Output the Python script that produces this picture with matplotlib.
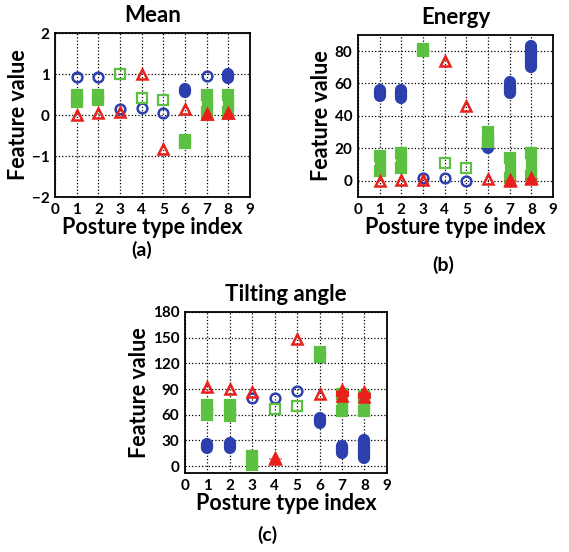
import numpy as np
import matplotlib
matplotlib.use("Agg")
import matplotlib.pyplot as plt

plt.rcParams['font.family'] = ['Lato', 'DejaVu Sans']
plt.rcParams['font.weight'] = 'bold'

postures = [1, 2, 3, 4, 5, 6, 7, 8]

# each entry is (low, high) of the overlapping samples at that posture
mean_circle = [(0.93, 0.93), (0.92, 0.92), (0.15, 0.15), (0.17, 0.17), (0.05, 0.05), (0.56, 0.64), (0.95, 0.95), (0.9, 1.0)]
mean_square = [(0.32, 0.48), (0.36, 0.5), (1.0, 1.0), (0.42, 0.42), (0.37, 0.37), (-0.68, -0.6), (0.08, 0.5), (0.08, 0.5)]
mean_triangle = [(0.0, 0.0), (0.05, 0.05), (0.08, 0.08), (1.0, 1.0), (-0.83, -0.83), (0.15, 0.15), (0.02, 0.03), (0.05, 0.06)]

energy_circle = [(52, 56), (51, 56), (2, 2), (2, 2), (0, 0), (20, 26), (54, 61), (70, 83)]
energy_square = [(6, 15), (8, 17), (80, 81), (11, 11), (8, 8), (24, 30), (2, 14), (3, 17)]
energy_triangle = [(0, 0), (0.5, 0.5), (0.5, 0.5), (74, 74), (46, 46), (1, 1), (0, 0.5), (1, 1.5)]

tilt_circle = [(21, 26), (21, 27), (80, 80), (80, 80), (88, 88), (50, 56), (15, 24), (10, 30)]
tilt_square = [(60, 71), (58, 71), (1, 12), (67, 67), (70, 70), (127, 133), (64, 84), (64, 82)]
tilt_triangle = [(92, 92), (90, 90), (86, 86), (8, 9), (148, 148), (84, 84), (82, 89), (81, 87)]

blue = '#2b3fae'
green = '#5cc040'
red = '#e8201c'

# marker size, edge width (pt)
STYLE = {'o': (7, 1.8), 's': (6.5, 1.6), '^': (7.5, 1.8)}


def draw_series(ax, data, color, marker):
    ms, mew = STYLE[marker]
    for x, (lo, hi) in zip(postures, data):
        if hi > lo:
            # many overlapping samples: a solid streak with the marker's outline shape
            if marker == 'o':
                ax.plot([x, x], [lo, hi], color=color, lw=ms + mew, solid_capstyle='round', zorder=3)
            else:
                ax.plot([x, x], [lo, hi], color=color, lw=ms + mew, solid_capstyle='butt', zorder=3)
                ax.plot([x, x], [lo, hi], ls='none', marker=marker, ms=ms, mfc=color,
                        mec=color, mew=mew, zorder=3)
        else:
            ax.plot([x], [lo], ls='none', marker=marker, ms=ms, mfc='none',
                    mec=color, mew=mew, zorder=3)


def setup(ax, title, ylim, yticks):
    ax.set_xlim(0, 9)
    ax.set_ylim(*ylim)
    ax.set_xticks(range(10))
    ax.set_yticks(yticks)
    ax.grid(True, color='black', ls=':', lw=0.9)
    ax.set_axisbelow(True)
    ax.set_title(title, fontsize=16, fontweight='bold', pad=8)
    ax.set_xlabel('Posture type index', fontsize=15.5, fontweight='bold', labelpad=0)
    ax.set_ylabel('Feature value', fontsize=15.5, fontweight='bold', labelpad=2)
    ax.tick_params(labelsize=11, length=0, pad=4)
    for s in ax.spines.values():
        s.set_linewidth(1.3)


fig = plt.figure(figsize=(5.69, 5.52), dpi=100)

ax_a = fig.add_axes([0.097, 0.643, 0.342, 0.297])
ax_b = fig.add_axes([0.629, 0.643, 0.343, 0.294])
ax_c = fig.add_axes([0.325, 0.143, 0.355, 0.292])

panels = [
    (ax_a, 'Mean', (-2, 2), [-2, -1, 0, 1, 2], mean_circle, mean_square, mean_triangle),
    (ax_b, 'Energy', (-10, 90), [0, 20, 40, 60, 80], energy_circle, energy_square, energy_triangle),
    (ax_c, 'Tilting angle', (-8, 180), [0, 30, 60, 90, 120, 150, 180], tilt_circle, tilt_square, tilt_triangle),
]
for ax, title, ylim, yticks, circ, sq, tri in panels:
    setup(ax, title, ylim, yticks)
    draw_series(ax, circ, blue, 'o')
    draw_series(ax, sq, green, 's')
    draw_series(ax, tri, red, '^')

fig.text(142 / 569, 1 - 250 / 552, '(a)', ha='center', va='center', fontsize=14, fontweight='bold')
fig.text(443 / 569, 1 - 265 / 552, '(b)', ha='center', va='center', fontsize=14, fontweight='bold')
fig.text(267 / 569, 1 - 535 / 552, '(c)', ha='center', va='center', fontsize=14, fontweight='bold')

fig.savefig('out.png', dpi=100)
